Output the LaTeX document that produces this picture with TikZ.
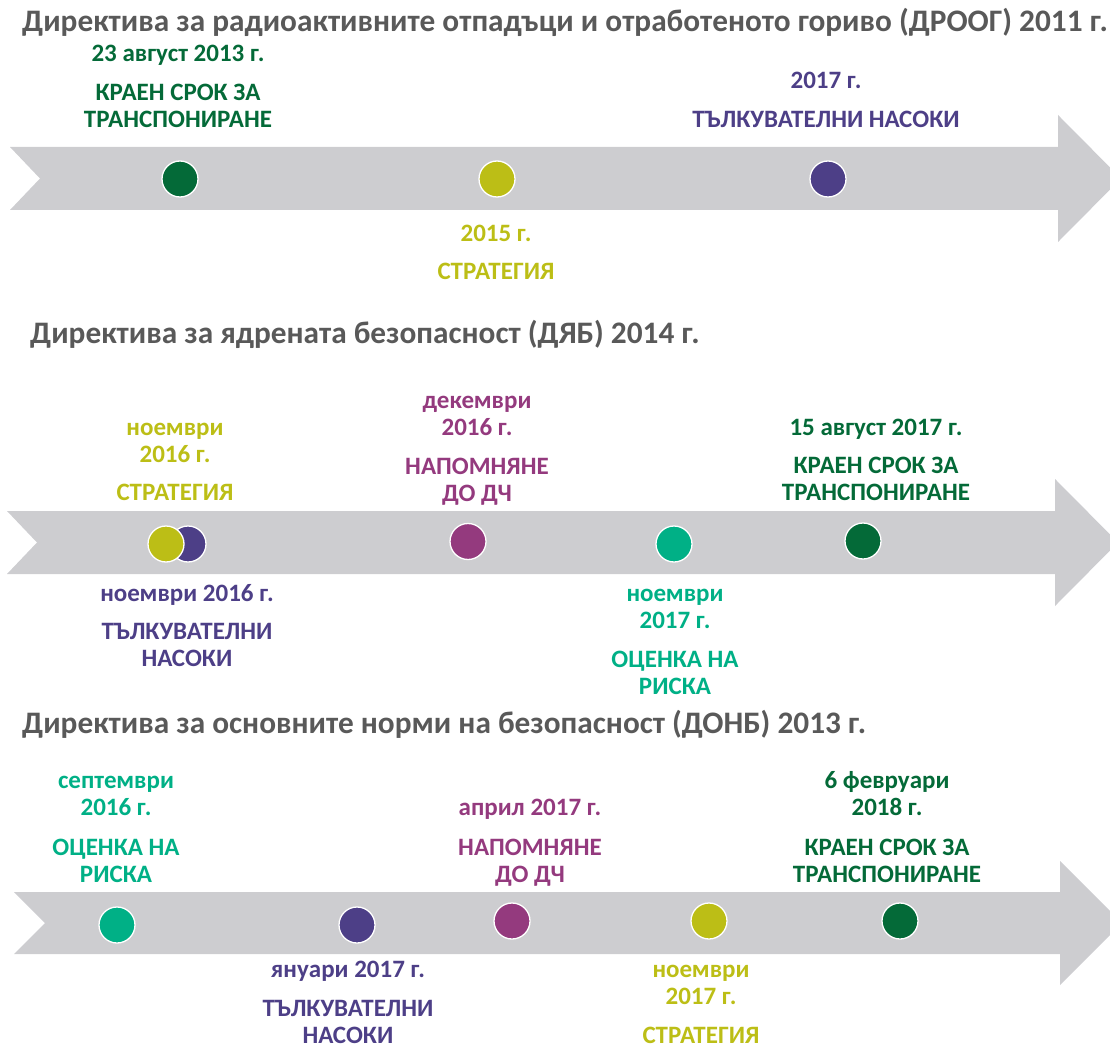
\documentclass[tikz,border=0pt]{standalone}
\usepackage{fontspec}
\setmainfont{Carlito}
\usepackage{xcolor}
\usepackage{tikz}
\usetikzlibrary{positioning}

\definecolor{dgreen}{RGB}{4,106,56}
\definecolor{olive}{RGB}{188,190,22}
\definecolor{violet}{RGB}{77,63,135}
\definecolor{plum}{RGB}{148,58,126}
\definecolor{teal}{RGB}{0,176,134}
\definecolor{band}{RGB}{205,205,208}
\definecolor{ink}{RGB}{89,89,89}

\begin{document}
\begin{tikzpicture}[x=1pt,y=-1pt,
    every node/.style={inner sep=0pt},
    dot/.style={circle,draw=white,line width=1.3pt,minimum size=36pt},
    ev/.style={align=center,anchor=base,font=\fontsize{25}{27}\selectfont\bfseries},
    headline/.style={anchor=base west,text=ink,font=\fontsize{31.3}{36}\selectfont\bfseries}]
    \useasboundingbox (0,0) rectangle (1110,1048);
    \clip (0,0) rectangle (1110,1048);

    % timelines
    \fill[band] (10,147) -- (1058,147) -- (1058,115) -- (1121,178.5) -- (1058,242) -- (1058,210) -- (10,210) -- (40,178.5) -- cycle;
    \fill[band] (7,511) -- (1055,511) -- (1055,479) -- (1118,542.5) -- (1055,606) -- (1055,574) -- (7,574) -- (37,542.5) -- cycle;
    \fill[band] (14,892) -- (1060,892) -- (1060,861) -- (1122,923) -- (1060,985) -- (1060,954) -- (14,954) -- (45,923) -- cycle;

    % ДРООГ
    \node[headline] (t_1) at (22,32) {Директива за радиоактивните отпадъци и отработеното гориво (ДРООГ) 2011 г.};
    \node[dot,fill=dgreen] (p_1a) at (180,179) {};
    \node[dot,fill=olive] (p_1b) at (497,179) {};
    \node[dot,fill=violet] (p_1c) at (828,179) {};
    \node[ev,text=dgreen] (e_1a) at (178,128) {23 август 2013 г.\\[12pt] КРАЕН СРОК ЗА\\ ТРАНСПОНИРАНЕ};
    \node[ev,text=olive] (e_1b) at (496,280) {2015 г.\\[11pt] СТРАТЕГИЯ};
    \node[ev,text=violet] (e_1c) at (826,128) {2017 г.\\[12pt] ТЪЛКУВАТЕЛНИ НАСОКИ};

    % ДЯБ
    \node[headline] (t_2) at (30,343) {Директива за ядрената безопасност (ДЯБ) 2014 г.};
    \node[dot,fill=violet] (p_2b) at (188,544) {};
    \node[dot,fill=olive] (p_2a) at (166,544) {};
    \node[dot,fill=plum] (p_2c) at (468,541.5) {};
    \node[dot,fill=teal] (p_2d) at (674,544) {};
    \node[dot,fill=dgreen] (p_2e) at (863,541) {};
    \node[ev,text=olive] (e_2a) at (175,500) {ноември\\ 2016 г.\\[11pt] СТРАТЕГИЯ};
    \node[ev,text=plum] (e_2c) at (477,501) {декември\\ 2016 г.\\[12pt] НАПОМНЯНЕ\\ ДО ДЧ};
    \node[ev,text=dgreen] (e_2e) at (876,500) {15 август 2017 г.\\[11pt] КРАЕН СРОК ЗА\\ ТРАНСПОНИРАНЕ};
    \node[ev,text=violet] (e_2b) at (187,666) {ноември 2016 г.\\[11pt] ТЪЛКУВАТЕЛНИ\\ НАСОКИ};
    \node[ev,text=teal] (e_2d) at (675,694) {ноември\\ 2017 г.\\[12pt] ОЦЕНКА НА\\ РИСКА};

    % ДОНБ
    \node[headline] (t_3) at (22,733) {Директива за основните норми на безопасност (ДОНБ) 2013 г.};
    \node[dot,fill=teal] (p_3a) at (117,925) {};
    \node[dot,fill=violet] (p_3b) at (357,925) {};
    \node[dot,fill=plum] (p_3c) at (512,921) {};
    \node[dot,fill=olive] (p_3d) at (709,921) {};
    \node[dot,fill=dgreen] (p_3e) at (900,921) {};
    \node[ev,text=teal] (e_3a) at (116,882) {септември\\ 2016 г.\\[13pt] ОЦЕНКА НА\\ РИСКА};
    \node[ev,text=plum] (e_3c) at (530,882) {април 2017 г.\\[13pt] НАПОМНЯНЕ\\ ДО ДЧ};
    \node[ev,text=dgreen] (e_3e) at (887,882) {6 февруари\\ 2018 г.\\[13pt] КРАЕН СРОК ЗА\\ ТРАНСПОНИРАНЕ};
    \node[ev,text=violet] (e_3b) at (348,1043) {януари 2017 г.\\[12pt] ТЪЛКУВАТЕЛНИ\\ НАСОКИ};
    \node[ev,text=olive] (e_3d) at (701,1043) {ноември\\ 2017 г.\\[12pt] СТРАТЕГИЯ};

\end{tikzpicture}
\end{document}
